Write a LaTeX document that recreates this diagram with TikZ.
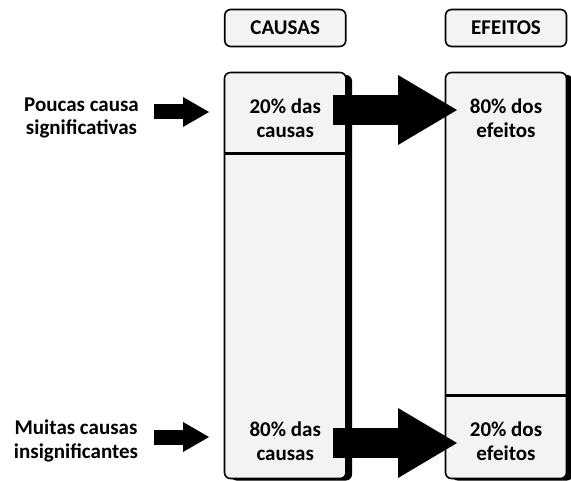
\documentclass[tikz,border=0pt]{standalone}
\usepackage{fontspec}
\setmainfont{Carlito}
\usetikzlibrary{arrows.meta}
\definecolor{boxgray}{HTML}{F3F3F3}
\tikzset{
  txt/.style={font=\bfseries\fontsize{21}{23.5}\selectfont,align=center,inner sep=0pt},
  headbox/.style={draw=black,line width=1.6pt,fill=boxgray,rounded corners=6pt,
    minimum width=121pt,minimum height=37pt,inner sep=0pt,
    font=\bfseries\fontsize{21}{23.5}\selectfont},
  colbox/.style={draw=black,line width=1.6pt,fill=boxgray,rounded corners=6pt},
  shadowbox/.style={fill=black,rounded corners=6pt},
  bigarrow/.style={line width=30pt,-{Triangle[length=59pt,width=70pt,line width=0pt]}},
  smallarrow/.style={line width=15pt,-{Triangle[length=26pt,width=30pt,line width=0pt]}}
}
\begin{document}
\begin{tikzpicture}[x=1pt,y=-1pt]
\useasboundingbox (0,0) rectangle (571,481);
% headers
\node[headbox] (hcausas) at (285.25,28) {CAUSAS};
\node[headbox] (hefeitos) at (506,28) {EFEITOS};
% columns with shadows
\fill[shadowbox] (230.5,75) rectangle (352,480.5);
\draw[colbox] (224.5,72.5) rectangle (346,478.5);
\draw[line width=3pt] (224.5,153.5) -- (346,153.5);
\fill[shadowbox] (451.5,75) rectangle (573,480.5);
\draw[colbox] (445.5,72.5) rectangle (566.5,478.5);
\draw[line width=3pt] (445.5,396) -- (566.5,396);
% texts
\node[txt] (c20) at (285.25,118) {20\% das\\causas};
\node[txt] (e80) at (506,118) {80\% dos\\efeitos};
\node[txt] (c80) at (285.25,441) {80\% das\\causas};
\node[txt] (e20) at (506,441) {20\% dos\\efeitos};
\node[txt] (lpoucas) at (81.5,118) {Poucas causa\\significativas};
\node[txt] (lmuitas) at (76,441) {Muitas causas\\insignificantes};
% arrows
\coordinate (p1) at (154,112);
\coordinate (p2) at (209,112);
\coordinate (m1) at (154,437);
\coordinate (m2) at (209,437);
\coordinate (t1) at (333,110);
\coordinate (t2) at (457,110);
\coordinate (b1) at (333,443);
\coordinate (b2) at (457,443);
\draw[smallarrow] (p1) -- (p2);
\draw[smallarrow] (m1) -- (m2);
\draw[bigarrow] (t1) -- (t2);
\draw[bigarrow] (b1) -- (b2);
\end{tikzpicture}
\end{document}
